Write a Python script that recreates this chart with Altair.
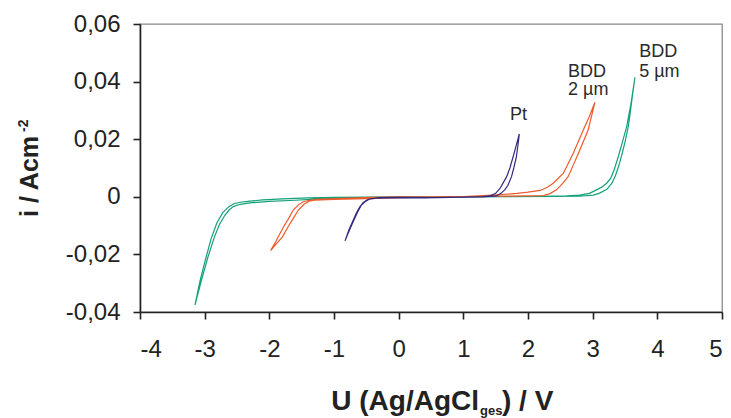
import altair as alt
import pandas as pd

# ---- data ----
# BDD 5 µm (green): branch A from cathodic end to anodic end, branch B back
g5_a_x = [-3.15, -3.07, -2.99, -2.90, -2.81, -2.72, -2.63, -2.55, -2.45, -2.30, -2.10, -1.80, -1.40, -1.00, -0.50, 0.00, 1.00, 2.00, 2.60, 2.80, 2.95, 3.06, 3.15, 3.22, 3.28, 3.33, 3.396, 3.46, 3.525, 3.59, 3.654]
g5_a_y = [-0.0376, -0.029, -0.022, -0.0145, -0.009, -0.0055, -0.0035, -0.0024, -0.0019, -0.0015, -0.0011, -0.0007, -0.0004, -0.0002, -0.0001, 0.0, 0.0, 0.0001, 0.0003, 0.0006, 0.0012, 0.0024, 0.0035, 0.0048, 0.0065, 0.0092, 0.0139, 0.019, 0.0243, 0.032, 0.0415]
g5_b_x = [3.62, 3.58, 3.55, 3.50, 3.45, 3.40, 3.35, 3.30, 3.22, 3.10, 3.01, 2.80, 2.40, 1.00, 0.00, -0.80, -1.30, -1.60, -2.00, -2.30, -2.45, -2.55, -2.62, -2.69, -2.77, -2.85, -2.95, -3.05]
g5_b_y = [0.036, 0.029, 0.0243, 0.019, 0.0145, 0.0105, 0.0072, 0.0048, 0.0026, 0.0012, 0.0006, 0.0002, 0.0001, 0.0, -0.0001, -0.0004, -0.0008, -0.0012, -0.0016, -0.0021, -0.0026, -0.0033, -0.0045, -0.0065, -0.0095, -0.014, -0.021, -0.029]

# BDD 2 µm (orange)
b2_a_x = [-1.98, -1.90, -1.78, -1.70, -1.63, -1.55, -1.475, -1.38, -1.27, -0.86, -0.40, 0.00, 1.00, 1.30, 1.60, 1.83, 2.00, 2.19, 2.30, 2.39, 2.545, 2.70, 2.855, 2.95, 3.035]
b2_a_y = [-0.0187, -0.0155, -0.0104, -0.0075, -0.0046, -0.0028, -0.0017, -0.0012, -0.0009, -0.0005, -0.0002, 0.0, 0.0001, 0.0004, 0.0008, 0.0012, 0.0016, 0.0022, 0.0033, 0.0047, 0.0081, 0.0151, 0.0232, 0.028, 0.0328]
b2_b_x = [2.93, 2.78, 2.70, 2.62, 2.53, 2.44, 2.34, 2.24, 1.57, 0.50, -0.50, -1.00, -1.30, -1.37, -1.46, -1.55, -1.63, -1.71, -1.80, -1.90]
b2_b_y = [0.0232, 0.0151, 0.011, 0.007, 0.0045, 0.0024, 0.0011, 0.0004, 0.0002, 0.0, -0.0006, -0.0009, -0.0012, -0.0014, -0.0025, -0.0046, -0.0075, -0.0104, -0.014, -0.0165]

# Pt (navy)
pt_a_x = [-0.83, -0.77, -0.70, -0.65, -0.598, -0.55, -0.495, -0.42, -0.34, 0.00, 0.40, 1.00, 1.30, 1.41, 1.50, 1.567, 1.62, 1.67, 1.72, 1.77, 1.82, 1.866]
pt_a_y = [-0.0153, -0.0115, -0.008, -0.0055, -0.0034, -0.002, -0.0011, -0.0006, -0.0005, -0.0003, -0.0004, -0.0001, 0.0001, 0.0003, 0.0012, 0.0029, 0.005, 0.007, 0.010, 0.0139, 0.018, 0.0218]
pt_b_x = [1.845, 1.82, 1.78, 1.745, 1.69, 1.64, 1.58, 1.515, 1.30, 0.50, 0.00, -0.30, -0.45, -0.52, -0.58, -0.64, -0.69, -0.76]
pt_b_y = [0.018, 0.0139, 0.010, 0.007, 0.004, 0.0024, 0.0012, 0.0003, 0.0, -0.0003, -0.0002, -0.0003, -0.0008, -0.0017, -0.003, -0.0055, -0.008, -0.0115]

series_names = ["BDD 5 µm", "BDD 2 µm", "Pt"]
series_colors = ["#14a07a", "#ef5a2a", "#322a80"]

# annotation labels
label_text = ["Pt", "BDD", "2 µm", "BDD", "5 µm"]
label_x = [1.72, 2.62, 2.62, 3.72, 3.72]
label_y = [0.0267, 0.0417, 0.0353, 0.0486, 0.0417]

rows = []
for name, ax, ay, bx, by in [
    ("BDD 5 µm", g5_a_x, g5_a_y, g5_b_x, g5_b_y),
    ("BDD 2 µm", b2_a_x, b2_a_y, b2_b_x, b2_b_y),
    ("Pt", pt_a_x, pt_a_y, pt_b_x, pt_b_y),
]:
    xs = ax + bx + [ax[0]]
    ys = ay + by + [ay[0]]
    for i, (xv, yv) in enumerate(zip(xs, ys)):
        rows.append({"s": name, "o": i, "x": xv, "y": yv})
df = pd.DataFrame(rows)

xscale = alt.Scale(domain=[-4, 5], nice=False, zero=False)
yscale = alt.Scale(domain=[-0.04, 0.06], nice=False, zero=False)

xlab = "(datum.value < 0 ? '-' : '') + abs(datum.value)"
ylab = "datum.value == 0 ? '0' : (datum.value < 0 ? '-' : '') + replace(format(abs(datum.value), '.2f'), '.', ',')"

lines = alt.Chart(df).mark_line(strokeWidth=1.2).encode(
    x=alt.X("x:Q", scale=xscale,
            axis=alt.Axis(values=list(range(-4, 6)), labelExpr=xlab, title=None,
                          labelPadding=18, grid=False)),
    y=alt.Y("y:Q", scale=yscale,
            axis=alt.Axis(values=[-0.04, -0.02, 0, 0.02, 0.04, 0.06], labelExpr=ylab,
                          title=None, labelPadding=13, grid=False)),
    color=alt.Color("s:N", scale=alt.Scale(domain=series_names, range=series_colors), legend=None),
    order=alt.Order("o:Q"),
    detail="s:N",
)

lab_df = pd.DataFrame({"t": label_text, "x": label_x, "y": label_y})
labels = alt.Chart(lab_df).mark_text(
    align="left", baseline="alphabetic", fontSize=18, font="Liberation Sans", color="#2a2a2a"
).encode(x=alt.X("x:Q", scale=xscale), y=alt.Y("y:Q", scale=yscale), text="t:N")

def txt(t, x, y, size, align, angle=0):
    return alt.Chart(pd.DataFrame({"t": [t]})).mark_text(
        align=align, baseline="alphabetic", fontSize=size, fontWeight="bold",
        font="Liberation Sans", color="#222222", angle=angle
    ).encode(x=alt.value(x), y=alt.value(y), text="t:N")

xt1 = txt("U (Ag/AgCl", 339, 386, 28, "right")
xt2 = txt("ges", 340, 391, 13, "left")
xt3 = txt(") / V", 362, 386, 28, "left")
yt1 = txt("i / Acm", -102, 193, 25, "left", angle=270)
yt2 = txt("-2", -112, 108, 14, "left", angle=270)

chart = alt.layer(lines, labels, xt1, xt2, xt3, yt1, yt2).properties(
    width=582, height=288,
    autosize=alt.AutoSizeParams(type="none"),
    padding={"left": 140, "top": 24, "right": 9, "bottom": 106},
).configure_view(
    stroke="#8a8a8a", strokeWidth=1.3
).configure_axis(
    domainColor="#222222", domainWidth=1.6, tickColor="#222222", tickWidth=1.6, tickSize=7,
    labelFont="Liberation Sans", labelFontSize=24, labelColor="#222222",
)

chart.save("out.html", embed_options={"renderer": "svg", "actions": False})
